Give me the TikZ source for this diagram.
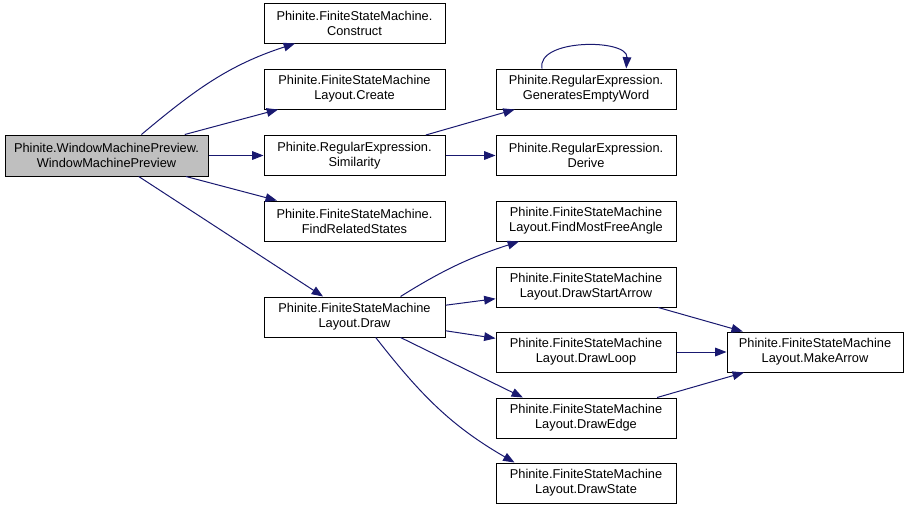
\documentclass[tikz,border=0pt]{standalone}
\usepackage{fontspec}
\setmainfont{Liberation Sans}
\usetikzlibrary{arrows.meta}
\definecolor{edgeblue}{HTML}{191970}
\definecolor{boxgray}{HTML}{BFBFBF}

\begin{document}
\begin{tikzpicture}[x=0.75pt, y=0.75pt,
  fn/.style={draw, line width=0.75pt, align=center, inner sep=0pt,
    minimum width=135.75pt, minimum height=30pt,
    font=\fontsize{9.6}{11.2}\selectfont},
  call/.style={draw=edgeblue, line width=0.75pt,
    -{Triangle[length=8.5pt,width=6.5pt]}}]
  \useasboundingbox (0,0) rectangle (907,-508);
  \node[fn, fill=boxgray, minimum width=152.25pt, minimum height=30.75pt] (preview) at (106.5,-155.5) {Phinite.WindowMachinePreview.\\WindowMachinePreview};
  \node[fn] (construct) at (354.5,-23) {Phinite.FiniteStateMachine.\\Construct};
  \node[fn] (create) at (354.5,-89) {Phinite.FiniteStateMachine\\Layout.Create};
  \node[fn] (similarity) at (354.5,-155.5) {Phinite.RegularExpression.\\Similarity};
  \node[fn] (related) at (354.5,-221) {Phinite.FiniteStateMachine.\\FindRelatedStates};
  \node[fn] (draw) at (354.5,-317) {Phinite.FiniteStateMachine\\Layout.Draw};
  \node[fn, minimum width=135pt] (empty) at (586,-89) {Phinite.RegularExpression.\\GeneratesEmptyWord};
  \node[fn, minimum width=135pt] (derive) at (586,-155.5) {Phinite.RegularExpression.\\Derive};
  \node[fn, minimum width=135pt] (angle) at (586,-221) {Phinite.FiniteStateMachine\\Layout.FindMostFreeAngle};
  \node[fn, minimum width=135pt] (startarrow) at (586,-287) {Phinite.FiniteStateMachine\\Layout.DrawStartArrow};
  \node[fn, minimum width=135pt] (loop) at (586,-352) {Phinite.FiniteStateMachine\\Layout.DrawLoop};
  \node[fn, minimum width=135pt] (edge) at (586,-418) {Phinite.FiniteStateMachine\\Layout.DrawEdge};
  \node[fn, minimum width=135pt] (state) at (586,-483) {Phinite.FiniteStateMachine\\Layout.DrawState};
  \node[fn, minimum width=132pt] (makearrow) at (815,-352) {Phinite.FiniteStateMachine\\Layout.MakeArrow};
  % calls from the preview window
  \draw[call] (preview.31) to[out=40,in=198] (construct.199);
  \draw[call] (preview) -- (create);
  \draw[call] (preview) -- (similarity);
  \draw[call] (preview) -- (related);
  \draw[call] (preview) -- (draw);
  % regular expressions
  \draw[call] (similarity) -- (empty);
  \draw[call] (similarity) -- (derive);
  \draw[call] (empty.155) .. controls +(-6,30) and +(2,30) .. (empty.27);
  % layout
  \draw[call] (draw.24) to[out=32,in=198] (angle.197);
  \draw[call] (draw) -- (startarrow);
  \draw[call] (draw) -- (loop);
  \draw[call] (draw.336) -- (edge.162);
  \draw[call] (draw.316) to[out=-52,in=150] (state.164);
  \draw[call] (startarrow) -- (makearrow);
  \draw[call] (loop) -- (makearrow);
  \draw[call] (edge) -- (makearrow);
\end{tikzpicture}
\end{document}
